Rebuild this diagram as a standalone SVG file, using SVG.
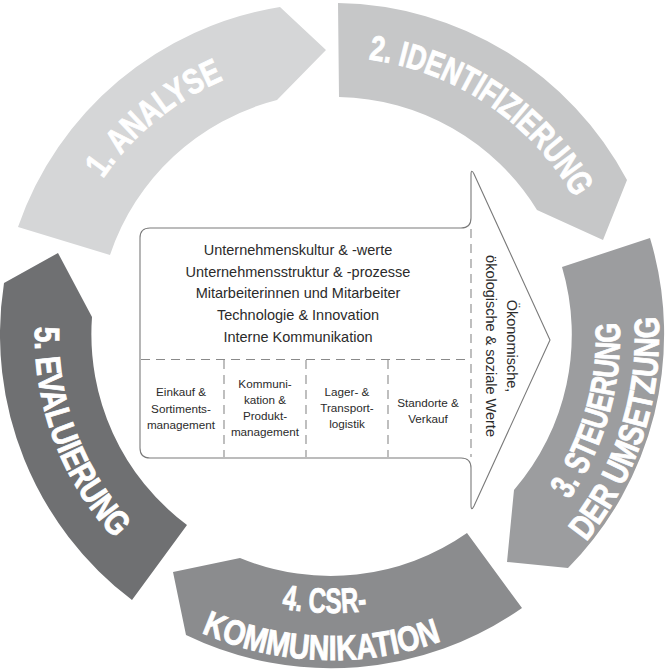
<svg xmlns="http://www.w3.org/2000/svg" xmlns:xlink="http://www.w3.org/1999/xlink" width="665" height="672" viewBox="0 0 665 672">
<style>
.seg-label{font-family:"Liberation Sans",Arial,sans-serif;font-weight:bold;font-size:35px;fill:#ffffff;stroke:#ffffff;stroke-width:0.9}
.body{font-family:"Liberation Sans",Arial,sans-serif;font-size:14.5px;fill:#2b2b2b;text-anchor:middle}
.cell{font-family:"Liberation Sans",Arial,sans-serif;font-size:11.7px;fill:#2b2b2b;text-anchor:middle}
.outline{fill:#ffffff;stroke:#7a7a7a;stroke-width:1.1}
.dash{fill:none;stroke:#8a8a8a;stroke-width:1.1;stroke-dasharray:9 6}
</style>
<defs>
<path id="p1" d="M55.4,308.2 A278,278 0 0 1 359.9,59.4"/>
<path id="p2" d="M278.5,62.2 A279,279 0 0 1 605.8,282.5"/>
<path id="p3a" d="M471.6,587.9 A288,288 0 0 0 583.9,196.4"/>
<path id="p3b" d="M481.5,626.8 A327,327 0 0 0 622.8,186.5"/>
<path id="p4a" d="M130.7,526.3 A277,277 0 0 0 522.3,537.3"/>
<path id="p4b" d="M95,557 A324,324 0 0 0 553,573"/>
<path id="p5" d="M61.5,213.3 A297,297 0 0 0 209.3,606.5"/>
</defs>
<rect width="665" height="672" fill="#ffffff"/>

<g id="step1">
<path d="M18,227 A333,333 0 0 1 280,7 L326,50 L277,100 A238,238 0 0 0 110,255 Z" fill="#d5d6d7"/>
<text class="seg-label"><textPath xlink:href="#p1" href="#p1" startOffset="50%" text-anchor="middle" textLength="158" lengthAdjust="spacingAndGlyphs">1. ANALYSE</textPath></text>
</g>
<g id="step2">
<path d="M338,3 A333,333 0 0 1 627,180 L603,240 L537,210 A238,238 0 0 0 339,97 Z" fill="#c6c7c8"/>
<text class="seg-label"><textPath xlink:href="#p2" href="#p2" startOffset="50%" text-anchor="middle" textLength="257" lengthAdjust="spacingAndGlyphs">2. IDENTIFIZIERUNG</textPath></text>
</g>
<g id="step3">
<path d="M650,238 A333,333 0 0 1 568,568 L507,562 L514,490 A238,238 0 0 0 562,267 Z" fill="#9c9d9f"/>
<text class="seg-label"><textPath xlink:href="#p3a" href="#p3a" startOffset="50%" text-anchor="middle" textLength="187" lengthAdjust="spacingAndGlyphs">3. STEUERUNG</textPath></text>
<text class="seg-label"><textPath xlink:href="#p3b" href="#p3b" startOffset="50%" text-anchor="middle" textLength="242" lengthAdjust="spacingAndGlyphs">DER UMSETZUNG</textPath></text>
</g>
<g id="step4">
<path d="M522,608 A333,333 0 0 1 186,635 L173,572 L240,558 A238,238 0 0 0 467,533 Z" fill="#8b8c8e"/>
<text class="seg-label"><textPath xlink:href="#p4a" href="#p4a" startOffset="50%" text-anchor="middle" textLength="86" lengthAdjust="spacingAndGlyphs">4. CSR-</textPath></text>
<text class="seg-label"><textPath xlink:href="#p4b" href="#p4b" startOffset="50%" text-anchor="middle" textLength="246" lengthAdjust="spacingAndGlyphs">KOMMUNIKATION</textPath></text>
</g>
<g id="step5">
<path d="M132,600 A333,333 0 0 1 4,283 L58,253 L92,317 A238,238 0 0 0 187,525 Z" fill="#6f7072"/>
<text class="seg-label"><textPath xlink:href="#p5" href="#p5" startOffset="50%" text-anchor="middle" textLength="232" lengthAdjust="spacingAndGlyphs">5. EVALUIERUNG</textPath></text>
</g>

<g id="center-arrow">
<path class="outline" d="M140,238 Q140,228 150,228 L461,228 Q471,228 471,218 L471,175 Q471,168 474,174 L550,340 L474,506 Q471,512 471,505 L471,468 Q471,458 461,458 L150,458 Q140,458 140,448 Z"/>
<text class="body" x="298" y="255">Unternehmenskultur &amp; -werte</text>
<text class="body" x="298" y="276.7">Unternehmensstruktur &amp; -prozesse</text>
<text class="body" x="298" y="298.3">Mitarbeiterinnen und Mitarbeiter</text>
<text class="body" x="298" y="320">Technologie &amp; Innovation</text>
<text class="body" x="298" y="341.7">Interne Kommunikation</text>
<text class="body" transform="translate(507,346) rotate(90)">Ökonomische,</text>
<text class="body" transform="translate(486,346) rotate(90)">ökologische &amp; soziale Werte</text>
</g>
<g id="cells">
<text class="cell" x="181" y="396">Einkauf &amp;</text>
<text class="cell" x="181" y="412.5">Sortiments-</text>
<text class="cell" x="181" y="429">management</text>
<text class="cell" x="265" y="388">Kommuni-</text>
<text class="cell" x="265" y="404">kation &amp;</text>
<text class="cell" x="265" y="420">Produkt-</text>
<text class="cell" x="265" y="436">management</text>
<text class="cell" x="347" y="396">Lager- &amp;</text>
<text class="cell" x="347" y="412">Transport-</text>
<text class="cell" x="347" y="428">logistik</text>
<text class="cell" x="428" y="407">Standorte &amp;</text>
<text class="cell" x="428" y="422.5">Verkauf</text>
</g>
<g id="connectors">
<line class="dash" x1="471" y1="229" x2="471" y2="457"/>
<line class="dash" x1="141" y1="359.5" x2="470" y2="359.5"/>
<line class="dash" x1="224" y1="360" x2="224" y2="457"/>
<line class="dash" x1="306" y1="360" x2="306" y2="457"/>
<line class="dash" x1="388" y1="360" x2="388" y2="457"/>
</g>
</svg>
